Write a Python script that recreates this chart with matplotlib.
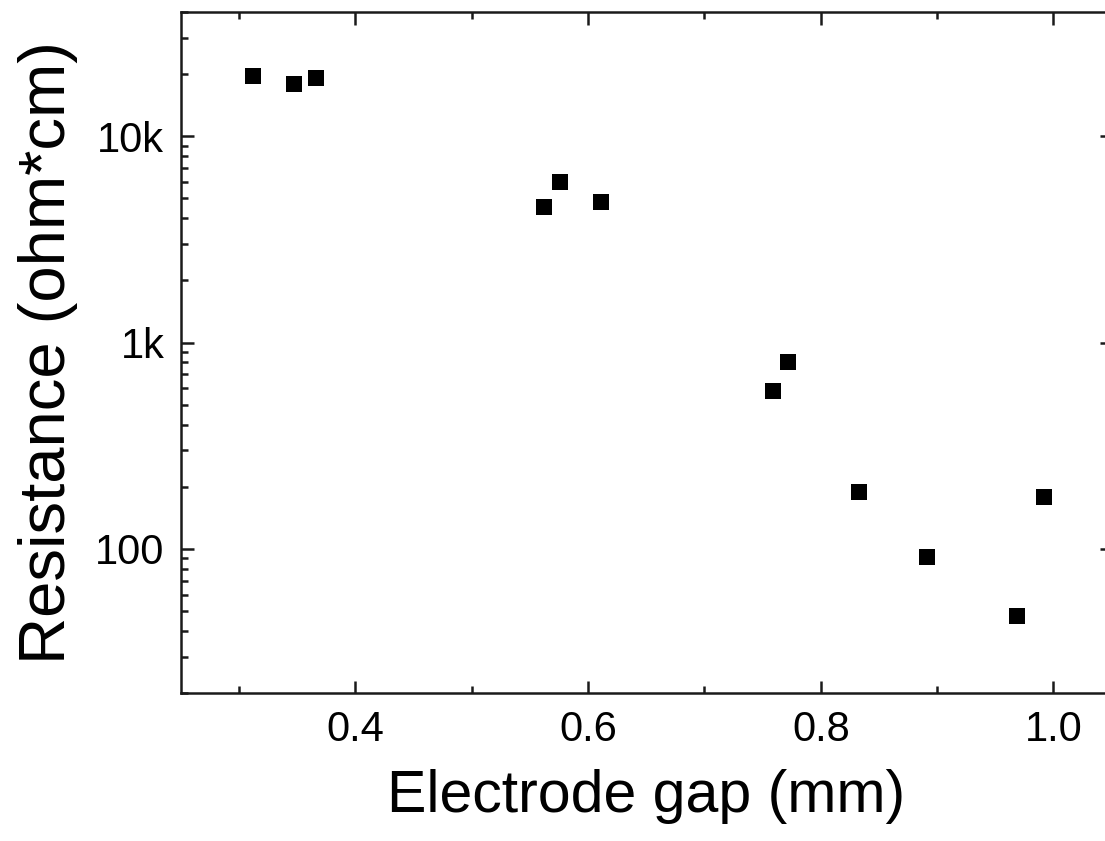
import matplotlib
matplotlib.use("Agg")
import matplotlib.pyplot as plt
import matplotlib.ticker as mticker

plt.rcParams['font.family'] = ['Liberation Sans', 'DejaVu Sans']

# electrode gap (mm) and resistance (ohm*cm)
gap = [0.312, 0.3475, 0.366, 0.562, 0.576, 0.611, 0.759, 0.772, 0.8325, 0.891, 0.969, 0.992]
resistance = [19500, 17900, 19150, 4560, 6030, 4780, 585, 804, 189, 91, 47.3, 178]

y_ticks = [100, 1000, 10000]
y_tick_labels = ['100', '1k', '10k']
x_ticks = [0.4, 0.6, 0.8, 1.0]

fig = plt.figure(figsize=(11.05, 8.41), dpi=100)
ax = fig.add_axes([181 / 1105, 148 / 841, (1111.6 - 181) / 1105, (693 - 12) / 841])

ax.plot(gap, resistance, 's', color='black', markersize=11.3, markeredgewidth=0)

ax.set_yscale('log')
ax.set_xlim(0.25, 1.05)
ax.set_ylim(20, 40000)

ax.set_xticks(x_ticks)
ax.xaxis.set_minor_locator(mticker.MultipleLocator(0.1))
ax.set_xticklabels(['%.1f' % v for v in x_ticks])
ax.set_yticks(y_ticks)
ax.set_yticklabels(y_tick_labels)
ax.yaxis.set_minor_locator(mticker.LogLocator(base=10, subs=range(2, 10), numticks=20))
ax.yaxis.set_minor_formatter(mticker.NullFormatter())

for s in ax.spines.values():
    s.set_linewidth(1.8)
    s.set_color('#1a1a1a')
ax.tick_params(which='both', direction='in', top=True, right=True, width=1.8, color='#1a1a1a')
ax.tick_params(which='major', length=9, labelsize=30, pad=12)
ax.tick_params(which='minor', length=5)

ax.set_xlabel('Electrode gap (mm)', fontsize=42.5, labelpad=14)
ax.set_ylabel('Resistance (ohm*cm)', fontsize=47, labelpad=12)

fig.savefig('out.png', dpi=100)
